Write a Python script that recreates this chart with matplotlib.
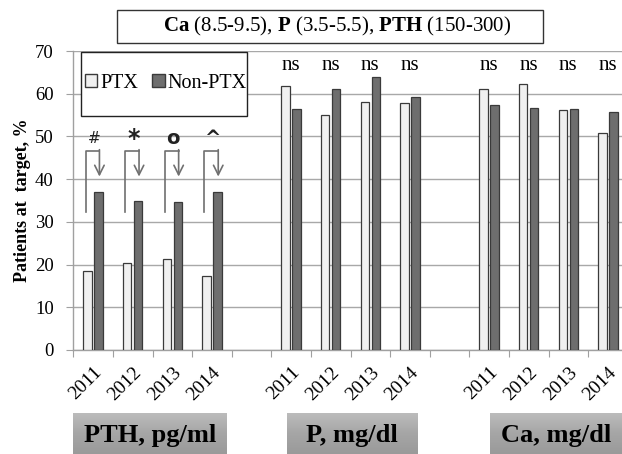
import numpy as np
import matplotlib
matplotlib.use('Agg')
import matplotlib.pyplot as plt
from matplotlib.patches import Rectangle, Patch

plt.rcParams['font.family'] = ['Liberation Serif', 'DejaVu Serif']
plt.rcParams['mathtext.fontset'] = 'custom'
plt.rcParams['mathtext.rm'] = 'Liberation Serif'
plt.rcParams['mathtext.bf'] = 'Liberation Serif:bold'

# datos
anios = ['2011', '2012', '2013', '2014']
grupos = ['PTH, pg/ml', 'P, mg/dl', 'Ca, mg/dl']
ptx_pth = [18.5, 20.3, 21.2, 17.4]
noptx_pth = [36.9, 35.0, 34.6, 36.9]
ptx_p = [61.8, 55.0, 58.1, 57.9]
noptx_p = [56.5, 61.0, 63.9, 59.2]
ptx_ca = [61.1, 62.3, 56.1, 50.8]
noptx_ca = [57.4, 56.7, 56.5, 55.7]
simbolos = ['#', '*', 'o', '^']
etiqueta_ns = 'ns'

W, H = 622, 454
fig = plt.figure(figsize=(W / 100, H / 100), dpi=100)

def fx(x):
    return x / W

def fy(y):
    return 1 - y / H

# eje principal
x0, x1, ytop, ybot = 73.3, 622, 51, 350
ax = fig.add_axes([fx(x0), fy(ybot), fx(x1) - fx(x0), fy(ytop) - fy(ybot)])
slot = 39.6
ax.set_xlim(-0.5, (x1 - x0) / slot - 0.5)
ax.set_ylim(0, 70)

pos_pth = np.arange(0, 4)
pos_p = np.arange(5, 9)
pos_ca = np.arange(10, 14)
pos = np.concatenate([pos_pth, pos_p, pos_ca])
ptx = ptx_pth + ptx_p + ptx_ca
noptx = noptx_pth + noptx_p + noptx_ca

ancho = 0.21
ax.bar(pos - 0.14, ptx, ancho, color='#f0f0f0', edgecolor='#3a3a3a', linewidth=0.9, zorder=3)
ax.bar(pos + 0.14, noptx, ancho, color='#6e6e6e', edgecolor='#3a3a3a', linewidth=0.9, zorder=3)

ax.set_yticks(range(0, 71, 10))
ax.yaxis.grid(True, color='#a8a8a8', linewidth=1.0)
ax.set_axisbelow(True)
for s in ['top', 'right']:
    ax.spines[s].set_visible(False)
for s in ['left', 'bottom']:
    ax.spines[s].set_color('#a0a0a0')
    ax.spines[s].set_linewidth(1.0)

ax.set_xticks(np.arange(-0.5, 13.5, 1.0))
ax.set_xticklabels([])
ax.set_xticks(pos, minor=True)
ax.set_xticklabels(anios * 3, minor=True, rotation=45, ha='right', rotation_mode='anchor', fontsize=14)
ax.tick_params(axis='x', which='major', length=5, color='#a0a0a0', direction='out')
ax.tick_params(axis='x', which='minor', length=0, pad=10)
ax.tick_params(axis='y', length=5, color='#a0a0a0', labelsize=13.5, pad=9)

ax.set_ylabel('Patients at  target, %', fontsize=13, fontweight='bold', labelpad=3)

# ns
for p in list(pos_p) + list(pos_ca):
    ax.text(p, 66.5, etiqueta_ns, ha='center', va='center', fontsize=15)

# corchetes y flechas
for i, p in enumerate(pos_pth):
    xa, xb = p - 0.19, p + 0.16
    ax.plot([xa, xa, xb], [32.2, 46.7, 46.7], color='#707070', lw=1.2, zorder=4)
    ax.annotate('', xy=(xb, 40.6), xytext=(xb, 46.9),
                arrowprops=dict(arrowstyle='->', color='#707070', lw=1.2,
                                mutation_scale=17, shrinkA=0, shrinkB=0), zorder=4)
tam_simb = [11, 17, 14, 14]
for i, p in enumerate(pos_pth):
    ax.text(p + 0.02, 49.5, simbolos[i], ha='center', va='center', fontsize=tam_simb[i],
            family='DejaVu Sans', fontweight='normal' if i == 0 else 'bold', color='#222222')

# leyenda
fig.patches.append(Rectangle((fx(81), fy(116)), fx(247) - fx(81), fy(52) - fy(116),
                             transform=fig.transFigure, facecolor='white',
                             edgecolor='#222222', lw=1.0, zorder=5))
manejadores = [Patch(facecolor='#f0f0f0', edgecolor='#3a3a3a', label='PTX'),
               Patch(facecolor='#6e6e6e', edgecolor='#3a3a3a', label='Non-PTX')]
leg = fig.legend(handles=manejadores, loc='center', bbox_to_anchor=(fx(166), fy(83)),
                 ncol=2, frameon=False, fontsize=14.5, handlelength=0.6, handleheight=0.6,
                 handletextpad=0.15, columnspacing=0.7)
leg.set_zorder(6)

# titulo
fig.patches.append(Rectangle((fx(117), fy(42.7)), fx(543) - fx(117), fy(10) - fy(42.7),
                             transform=fig.transFigure, facecolor='white',
                             edgecolor='#333333', lw=1.0))
fig.text(fx(337), fy(26), r'$\mathbf{Ca}$ (8.5-9.5), $\mathbf{P}$ (3.5-5.5), $\mathbf{PTH}$ (150-300)',
         ha='center', va='center', fontsize=15)

# cajas inferiores
cajas = [(73.3, 226.7), (286.7, 417), (490, 622)]
grad = np.linspace(0, 1, 50).reshape(-1, 1)
for (a, b), nombre in zip(cajas, grupos):
    axc = fig.add_axes([fx(a), 0, fx(b) - fx(a), fy(413)])
    axc.imshow(grad, aspect='auto', cmap=matplotlib.colors.LinearSegmentedColormap.from_list(
        'g', ['#bdbdbd', '#a6a6a6', '#9a9a9a']), extent=[0, 1, 0, 1])
    axc.set_axis_off()
    axc.text(0.5, 0.45, nombre, ha='center', va='center', fontsize=19, fontweight='bold',
             transform=axc.transAxes)

fig.savefig('out.png', dpi=100)
